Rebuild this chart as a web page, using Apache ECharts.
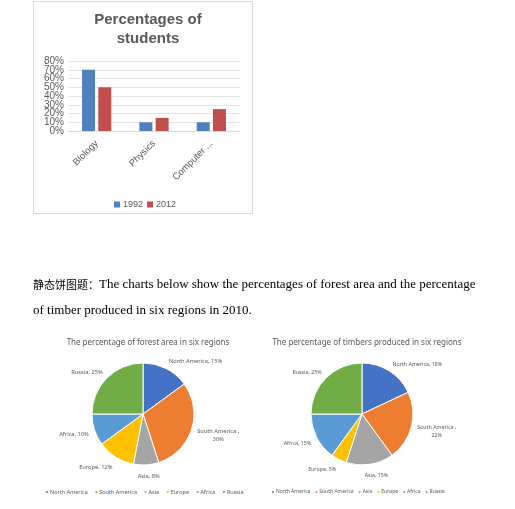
<!DOCTYPE html>
<html>
<head>
<meta charset="utf-8">
<script src="https://cdn.jsdelivr.net/npm/echarts@6/dist/echarts.min.js"></script>
<style>
  html, body { margin: 0; padding: 0; background: #fff; }
  #main { width: 515px; height: 509px; }
</style>
</head>
<body>
<div id="main"></div>
<script>
// bar chart data
var subjects = ['Biology', 'Physics', 'Computer ...'];
var years = ['1992', '2012'];
var students1992 = [70, 10, 10];
var students2012 = [50, 15, 25];
var barTicks = [0, 10, 20, 30, 40, 50, 60, 70, 80];

// pie data
var regions = ['North America', 'South America', 'Asia', 'Europe', 'Africa', 'Russia'];
var forestArea = [15, 30, 8, 12, 10, 25];
var timberProduced = [18, 22, 15, 5, 15, 25];
var regionColors = ['#4472C4', '#ED7D31', '#A5A5A5', '#FFC000', '#5B9BD5', '#70AD47'];

var lead = '静态饼图题：';
var line1 = 'The charts below show the percentages of forest area and the percentage';
var line2 = 'of timber produced in six regions in 2010.';

var PIE_Y = 414, PIE_R = 51, LABEL_GAP = 6;

var myChart = echarts.init(document.getElementById('main'));

function pieData(values) {
  return regions.map(function (name, i) {
    return { name: name, value: values[i], itemStyle: { color: regionColors[i] } };
  });
}

function pieLabel(p) {
  if (p.name === 'South America') return p.name + ' ,\n' + p.value + '%';
  return p.name + ', ' + p.value + '%';
}

function clamp1(v) { return Math.max(-1, Math.min(1, v)); }

// put each label just outside its slice, pushed sideways like Excel does
function excelLayout(values, cx) {
  var total = values.reduce(function (a, b) { return a + b; }, 0);
  return function (params) {
    var before = 0;
    for (var i = 0; i < params.dataIndex; i++) before += values[i];
    var mid = (before + values[params.dataIndex] / 2) / total * Math.PI * 2;
    var ux = Math.sin(mid), uy = -Math.cos(mid);
    var w = params.labelRect.width, h = params.labelRect.height;
    var d = PIE_R + LABEL_GAP;
    return {
      x: cx + ux * d + clamp1(ux * 3) * w / 2,
      y: PIE_Y + uy * d + uy * h / 2 + 1.5,
      align: 'center',
      verticalAlign: 'middle'
    };
  };
}

function pieSeries(values, cx, fs) {
  return {
    type: 'pie',
    center: [cx, PIE_Y],
    radius: PIE_R,
    startAngle: 90,
    clockwise: true,
    data: pieData(values),
    itemStyle: { borderColor: '#fff', borderWidth: 1 },
    label: {
      show: true,
      position: 'outside',
      formatter: pieLabel,
      fontSize: fs,
      color: '#595959',
      fontFamily: 'Noto Sans',
      lineHeight: 8,
      align: 'center'
    },
    labelLine: { show: false, length: 4, length2: 0 },
    labelLayout: excelLayout(values, cx),
    emphasis: { scale: false }
  };
}

function pieLegend(left, fs, gap) {
  return {
    data: regions,
    left: left, top: 484,
    itemWidth: 4, itemHeight: 4, itemGap: gap,
    icon: 'circle',
    textStyle: { fontSize: fs, color: '#595959', fontFamily: 'Noto Sans', padding: [0, 0, 0, -4] }
  };
}

var axisText = { color: '#595959', fontFamily: 'Liberation Sans' };

// two stacked label sets so that neighbouring tick labels are not hidden as overlapping
function yAxisFor(remainder, withGrid) {
  return {
    type: 'value',
    position: 'left',
    min: barTicks[0], max: barTicks[barTicks.length - 1], interval: 10,
    axisLine: { show: false },
    axisTick: { show: false },
    splitLine: { show: withGrid, lineStyle: { color: '#e5e5e5' } },
    axisLabel: Object.assign({
      fontSize: 10, margin: 4, showMinLabel: true, showMaxLabel: true, hideOverlap: false,
      formatter: function (v) { return v % 20 === remainder ? v + '%' : ''; }
    }, axisText)
  };
}

var option = {
  animation: false,
  title: [
    {
      text: 'Percentages of\nstudents',
      left: 143, top: 5, textAlign: 'center',
      textStyle: { fontSize: 15, fontWeight: 'bold', color: '#595959', fontFamily: 'Liberation Sans', lineHeight: 19 }
    },
    {
      text: 'The percentage of forest area in six regions',
      left: 143, top: 334, textAlign: 'center',
      textStyle: { fontSize: 8, fontWeight: 'normal', color: '#595959', fontFamily: 'Noto Sans' }
    },
    {
      text: 'The percentage of timbers produced in six regions',
      left: 362, top: 334, textAlign: 'center',
      textStyle: { fontSize: 8, fontWeight: 'normal', color: '#595959', fontFamily: 'Noto Sans' }
    }
  ],
  graphic: [
    {
      type: 'rect', z: -1,
      shape: { x: 33.5, y: 1.5, width: 219, height: 212 },
      style: { fill: '#fff', stroke: '#d9d9d9', lineWidth: 1 }
    },
    {
      type: 'text', left: 33, top: 278,
      style: {
        text: '{c|' + lead + '}{e|' + line1 + '}',
        rich: {
          c: { fontSize: 11, fill: '#000', fontFamily: 'Noto Sans CJK SC' },
          e: { fontSize: 13, fill: '#000', fontFamily: 'Liberation Serif' }
        }
      }
    },
    {
      type: 'text', left: 33, top: 304,
      style: { text: line2, fontSize: 13, fill: '#000', fontFamily: 'Liberation Serif' }
    }
  ],
  legend: [
    {
      data: years,
      left: 109, top: 195,
      itemWidth: 6, itemHeight: 6, itemGap: 4,
      icon: 'rect',
      textStyle: { fontSize: 9, color: '#595959', fontFamily: 'Liberation Sans', padding: [0, 0, 0, -2] }
    },
    pieLegend(39, 5.5, 5.5),
    pieLegend(265, 5, 3)
  ],
  grid: { left: 68, top: 61, width: 172, height: 70, containLabel: false },
  xAxis: {
    type: 'category',
    data: subjects,
    axisLine: { lineStyle: { color: '#d9d9d9' } },
    axisTick: { show: false },
    axisLabel: Object.assign({ fontSize: 9.5, rotate: 45, margin: 11, interval: 0 }, axisText)
  },
  yAxis: [yAxisFor(0, true), yAxisFor(10, false)],
  series: [
    {
      name: years[0], type: 'bar', data: students1992,
      itemStyle: { color: '#4F81BD' }, barWidth: 13, barGap: '25%'
    },
    {
      name: years[1], type: 'bar', data: students2012,
      itemStyle: { color: '#C0504D' }, barWidth: 13
    },
    pieSeries(forestArea, 143, 5.7),
    pieSeries(timberProduced, 362, 5.3)
  ]
};

myChart.setOption(option);
</script>
</body>
</html>
